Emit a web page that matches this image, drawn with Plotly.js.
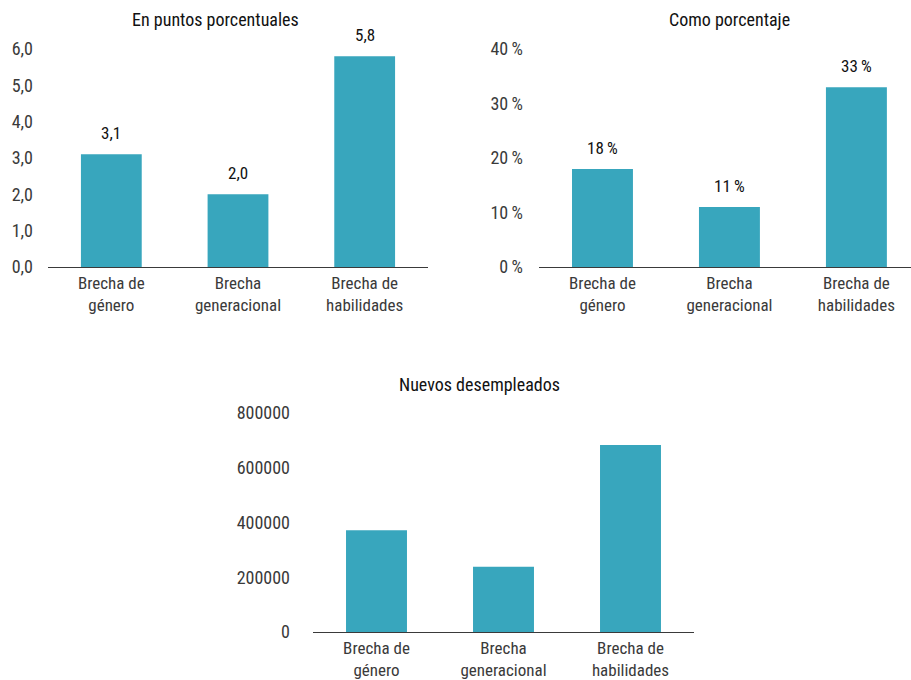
<!DOCTYPE html>
<html>
<head>
<meta charset="utf-8">
<script src="https://cdn.plot.ly/plotly-3.0.1.min.js"></script>
<style>
  html, body { margin: 0; padding: 0; background: #ffffff; }
  #chart { width: 911px; height: 680px; }
</style>
</head>
<body>
<div id="chart"></div>
<script>
// Categories shared by the three panels
const categories = ["Brecha de<br>género", "Brecha<br>generacional", "Brecha de<br>habilidades"];

// Panel values
const puntosPorcentuales = [3.1, 2.0, 5.8];
const comoPorcentaje = [18, 11, 33];
const nuevosDesempleados = [372000, 238000, 683000];

// Panel titles
const panelTitles = ["En puntos porcentuales", "Como porcentaje", "Nuevos desempleados"];

const W = 911, H = 680;
const barColor = "#38a6bd";
const FONT = "'Liberation Sans Narrow', 'Roboto Condensed', 'DejaVu Sans Condensed', 'Liberation Sans', sans-serif";
const catFont = { family: FONT, size: 17, color: "#3a3a3a" };
const numFont = { family: FONT, size: 18, color: "#3a3a3a" };

const px = v => v / W;
const py = v => (H - v) / H;

const traces = [
  { type: "bar", x: categories, y: puntosPorcentuales, xaxis: "x", yaxis: "y",
    marker: { color: barColor }, width: 0.48, hoverinfo: "skip" },
  { type: "bar", x: categories, y: comoPorcentaje, xaxis: "x2", yaxis: "y2",
    marker: { color: barColor }, width: 0.48, hoverinfo: "skip" },
  { type: "bar", x: categories, y: nuevosDesempleados, xaxis: "x3", yaxis: "y3",
    marker: { color: barColor }, width: 0.48, hoverinfo: "skip" }
];

// Value labels above the bars
const fmtComma = v => v.toFixed(1).replace(".", ",");
const annotations = [];
puntosPorcentuales.forEach((v, i) => annotations.push({
  xref: "x", yref: "y", x: categories[i], y: v, text: fmtComma(v),
  showarrow: false, yanchor: "bottom", yshift: 9,
  font: { family: FONT, size: 17, color: "#111111" }
}));
comoPorcentaje.forEach((v, i) => annotations.push({
  xref: "x2", yref: "y2", x: categories[i], y: v, text: v + "\u2009%",
  showarrow: false, yanchor: "bottom", yshift: 9,
  font: { family: FONT, size: 17, color: "#111111" }
}));

// Panel headings
const titlePos = [[215, 19], [729, 19], [479, 384]];
panelTitles.forEach((t, i) => annotations.push({
  xref: "paper", yref: "paper", x: px(titlePos[i][0]), y: py(titlePos[i][1]),
  xanchor: "center", yanchor: "middle", showarrow: false, text: t,
  font: { family: FONT, size: 18, color: "#111111" }
}));

const xBase = {
  type: "category", showgrid: false, zeroline: false, showline: true,
  linecolor: "#3a3a3a", linewidth: 1.3, ticks: "", tickfont: catFont,
  fixedrange: true
};
const yBase = {
  showgrid: false, zeroline: false, showline: false, ticks: "",
  tickfont: numFont, fixedrange: true
};

const layout = {
  width: W, height: H, autosize: false,
  margin: { l: 0, r: 0, t: 0, b: 0 },
  paper_bgcolor: "#ffffff", plot_bgcolor: "#ffffff",
  showlegend: false,
  separators: ", ",
  xaxis:  Object.assign({}, xBase, { domain: [px(48), px(428)], range: [-0.5, 2.5], anchor: "y" }),
  yaxis:  Object.assign({}, yBase, { domain: [py(267), py(49)], range: [0, 6], dtick: 1,
                                     tickformat: ".1f", anchor: "x", ticklabelstandoff: 14 }),
  xaxis2: Object.assign({}, xBase, { domain: [px(539), 1], range: [-0.5, 2.43], anchor: "y2" }),
  yaxis2: Object.assign({}, yBase, { domain: [py(267), py(49)], range: [0, 40], dtick: 10,
                                     ticksuffix: "\u2009%", anchor: "x2", ticklabelstandoff: 15 }),
  xaxis3: Object.assign({}, xBase, { domain: [px(313), px(694)], range: [-0.5, 2.5], anchor: "y3" }),
  yaxis3: Object.assign({}, yBase, { domain: [py(632), py(413)], range: [0, 800000], dtick: 200000,
                                     tickformat: "d", anchor: "x3", ticklabelstandoff: 22 }),
  annotations: annotations
};

Plotly.newPlot("chart", traces, layout, { staticPlot: true, displayModeBar: false });
</script>
</body>
</html>
